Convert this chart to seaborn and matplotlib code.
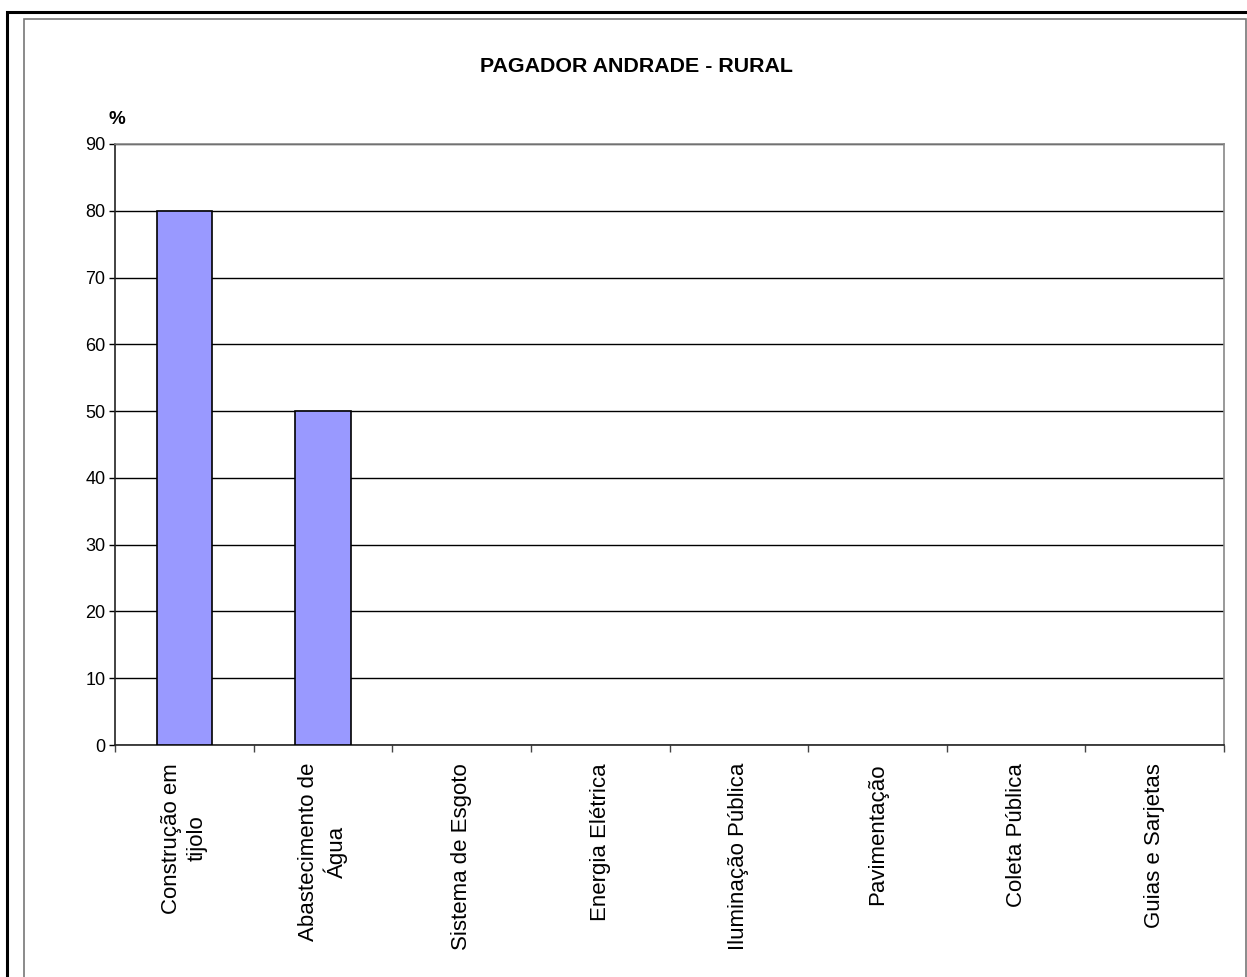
import matplotlib
matplotlib.use("Agg")
import matplotlib.pyplot as plt
import seaborn as sns
import pandas as pd
from matplotlib.patches import Rectangle

categories = ["Construção em\ntijolo", "Abastecimento de\nÁgua", "Sistema de Esgoto",
              "Energia Elétrica", "Iluminação Pública", "Pavimentação",
              "Coleta Pública", "Guias e Sarjetas"]
values = [80, 50, 0, 0, 0, 0, 0, 0]
yticks = [0, 10, 20, 30, 40, 50, 60, 70, 80, 90]
title = "PAGADOR ANDRADE - RURAL"

sns.set_theme(style="white")
plt.rcParams['font.family'] = ['Liberation Sans', 'DejaVu Sans']

W, H = 1247, 977
fig = plt.figure(figsize=(W / 100, H / 100), dpi=100)
ax = fig.add_axes([115 / W, 1 - 745 / H, (1224 - 115) / W, (745 - 144) / H])

df = pd.DataFrame({"cat": categories, "val": values})
sns.barplot(data=df, x="cat", y="val", ax=ax, color="#9999FF", saturation=1,
            width=0.4, edgecolor="black", linewidth=1.2, zorder=3)
for p in ax.patches:
    if p.get_height() == 0:
        p.set_linewidth(0)

ax.set_ylim(0, 90)
ax.set_xlim(-0.5, len(categories) - 0.5)
ax.set_yticks(yticks)
ax.set_yticklabels([str(v) for v in yticks], fontsize=13, color="black")
ax.set_xticks(range(len(categories)))
ax.set_xticklabels(categories, rotation=90, fontsize=16, color="black",
                   ha="center", va="top", multialignment="center", linespacing=1.25)
ax.set_xticks([i - 0.5 for i in range(len(categories) + 1)], minor=True)
ax.tick_params(axis="x", which="major", length=0, pad=13)
ax.tick_params(axis="x", which="minor", length=5, width=1, color="#444444", direction="out", bottom=True)
ax.tick_params(axis="y", which="major", length=4, width=1, color="black", direction="out", left=True, pad=3)
ax.set_xlabel("")
ax.set_ylabel("")

ax.grid(axis="y", color="black", linewidth=1, zorder=0)
ax.set_axisbelow(True)
for s in ["left", "bottom"]:
    ax.spines[s].set_color("#222222")
    ax.spines[s].set_linewidth(1.2)
for s in ["top", "right"]:
    ax.spines[s].set_color("#888888")
    ax.spines[s].set_linewidth(1.2)

fig.text(636 / W, 1 - 67 / H, title, ha="center", va="center", fontsize=15.4, fontweight="bold",
         color="black")
fig.text(117 / W, 1 - 120 / H, "%", ha="center", va="center", fontsize=13.5, fontweight="bold",
         color="black")

# frame borders
fig.patches.append(Rectangle((7 / W, -0.05), 1.2, 1 - 12 / H + 0.05, transform=fig.transFigure,
                             fill=False, edgecolor="black", linewidth=2.2))
fig.patches.append(Rectangle((24 / W, -0.05), (1246 - 24) / W, 1 - 19 / H + 0.05, transform=fig.transFigure,
                             fill=False, edgecolor="#777777", linewidth=1.2))

fig.savefig("out.png", dpi=100, facecolor="white")
